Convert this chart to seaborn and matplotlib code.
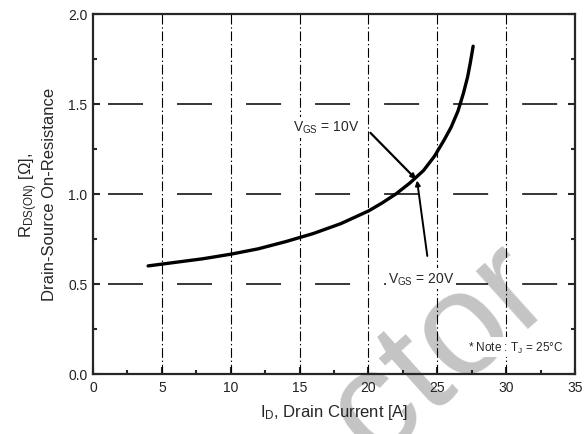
import numpy as np
import pandas as pd
import seaborn as sns
import matplotlib.pyplot as plt

# on-resistance curve
id_vals = [4.0, 6.0, 8.0, 10.0, 12.0, 14.0, 16.0, 18.0, 20.0, 21.0, 22.0, 23.0, 24.0,
           24.8, 25.5, 26.0, 26.5, 26.9, 27.2, 27.4, 27.6]
rds_vals = [0.60, 0.62, 0.64, 0.665, 0.695, 0.735, 0.78, 0.835, 0.905, 0.95, 1.0, 1.06, 1.13,
            1.21, 1.30, 1.37, 1.46, 1.56, 1.65, 1.73, 1.82]

x_ticks = [0, 5, 10, 15, 20, 25, 30, 35]
y_ticks = [0.0, 0.5, 1.0, 1.5, 2.0]

df = pd.DataFrame({'id': id_vals, 'rds': rds_vals})

sns.set_style('ticks')
plt.rcParams['font.family'] = ['Liberation Sans', 'DejaVu Sans']
plt.rcParams['mathtext.fontset'] = 'custom'
plt.rcParams['mathtext.rm'] = 'Liberation Sans'
plt.rcParams['mathtext.it'] = 'Liberation Sans:italic'
plt.rcParams['mathtext.default'] = 'rm'
plt.rcParams['lines.scale_dashes'] = False

fig = plt.figure(figsize=(5.85, 4.35), dpi=100)
ax = fig.add_axes([0.159, 0.138, 0.824, 0.828])

# grid: dash-dot verticals, long-dash horizontals
for xv in [5, 10, 15, 20, 25, 30]:
    ax.axvline(xv, color='black', lw=0.8, ls=(0, (7, 2, 1, 2)), zorder=1)
for yv in [0.5, 1.0, 1.5]:
    ax.axhline(yv, color='black', lw=1.1, ls=(38.9, (25.2, 24.5)), zorder=1)

sns.lineplot(data=df, x='id', y='rds', ax=ax, color='black', lw=2.4, zorder=4)

# gate-voltage pointers
ax.annotate('', xy=(23.6, 1.07), xytext=(20.0, 1.35),
            arrowprops=dict(arrowstyle='-|>', color='black', lw=1.6, mutation_scale=7), zorder=5)
ax.annotate('', xy=(23.5, 1.09), xytext=(24.3, 0.64),
            arrowprops=dict(arrowstyle='-|>', color='black', lw=1.4, mutation_scale=7), zorder=5)

box = dict(facecolor='white', edgecolor='none', pad=1.5)
ax.text(14.5, 1.37, '$V_{GS}$ = 10V', fontsize=10, va='center', ha='left', bbox=box, zorder=3)
ax.text(21.4, 0.53, '$V_{GS}$ = 20V', fontsize=10, va='center', ha='left', bbox=box, zorder=3)
ax.text(27.2, 0.15, '* Note : $T_J$ = 25°C', fontsize=8.5, va='center', ha='left', bbox=box, zorder=3)

# faint watermark (partly cut by the bottom edge, as in the source image)
ax.text(0.752, 0.191, 'ctor', transform=fig.transFigure, fontsize=106, color='#c4c4c4',
        rotation=42, ha='center', va='center', zorder=0.5, clip_on=False)

ax.set_xlim(0, 35)
ax.set_ylim(0, 2.0)
ax.set_xticks(x_ticks)
ax.set_yticks(y_ticks)
ax.set_yticklabels([f'{v:.1f}' for v in y_ticks])
ax.set_xticks(np.arange(2.5, 35, 5), minor=True)
ax.set_yticks(np.arange(0.25, 2.0, 0.5), minor=True)
ax.tick_params(which='both', direction='in', right=True, labelsize=10, labelcolor='#222222', width=1.5, pad=4)
ax.tick_params(which='major', length=5)
ax.tick_params(which='minor', length=3)
for s in ax.spines.values():
    s.set_linewidth(1.6)
    s.set_visible(True)

ax.set_xlabel('$I_D$, Drain Current [A]', fontsize=12, labelpad=6)
ax.set_ylabel('$R_{DS(ON)}$ [Ω],\nDrain-Source On-Resistance', fontsize=12, labelpad=8)

fig.savefig('out.png', dpi=100)
